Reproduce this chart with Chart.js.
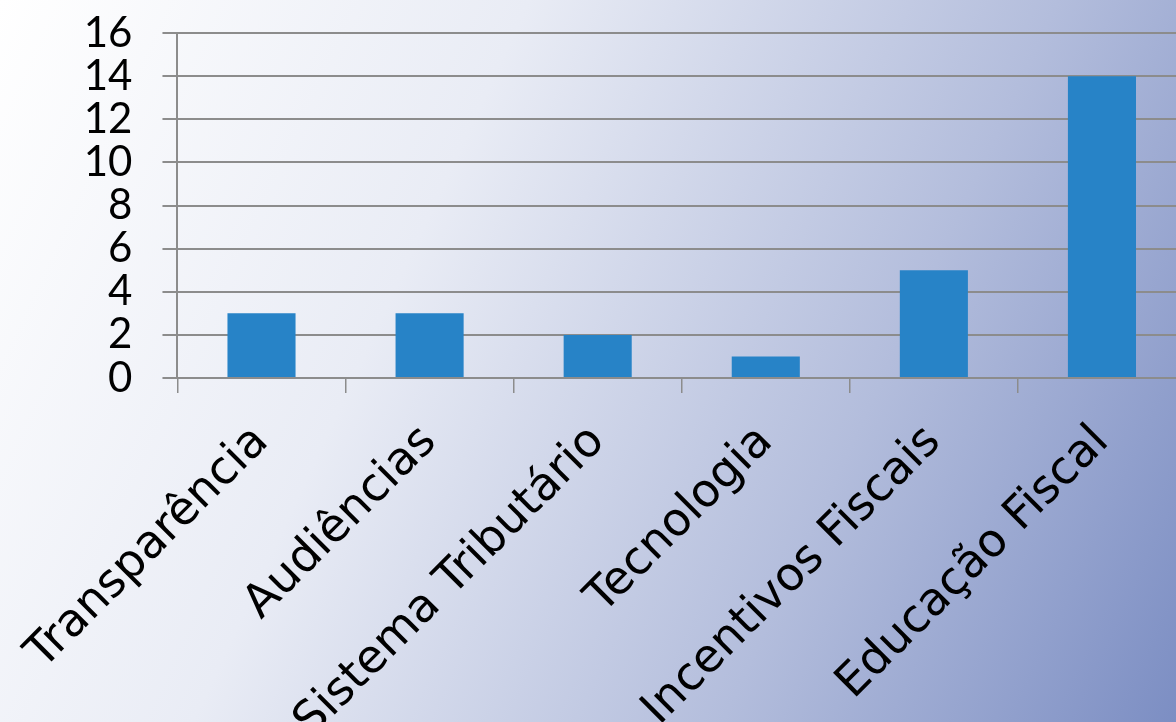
<!DOCTYPE html>
<html>
<head>
<meta charset="utf-8">
<script src="https://cdn.jsdelivr.net/npm/chart.js@4"></script>
<style>
  html, body {
    margin: 0;
    padding: 0;
    overflow: hidden;
    width: 1176px;
    height: 722px;
    background: linear-gradient(115deg, #ffffff 0%, #e9ecf5 35%, #b3bddc 70%, #7c8ec3 100%);
  }
  #wrap { position: absolute; left: -2px; top: -18px; width: 1190px; height: 740px; }
</style>
</head>
<body>
<div id="wrap"><canvas id="grafico" width="1190" height="740"></canvas></div>
<script>
const categorias = ["Transparência", "Audiências", "Sistema Tributário", "Tecnologia", "Incentivos Fiscais", "Educação Fiscal"];
const valores = [3, 3, 2, 1, 5, 14];
const ticksY = [0, 2, 4, 6, 8, 10, 12, 14, 16];

const cinza = "#8c8c8c";

const ctx = document.getElementById("grafico").getContext("2d");
new Chart(ctx, {
  type: "bar",
  data: {
    labels: categorias,
    datasets: [
      {
        label: "Total",
        data: valores,
        backgroundColor: "#2783c7",
        borderWidth: 0,
        barPercentage: 0.81,
        categoryPercentage: 0.5,
      },
    ],
  },
  options: {
    responsive: false,
    animation: false,
    layout: { padding: { top: 0, right: 2, left: 0, bottom: 0 } },
    plugins: {
      legend: { display: false },
      tooltip: { enabled: false },
    },
    scales: {
      x: {
        grid: {
          display: true,
          drawOnChartArea: false,
          drawTicks: true,
          tickLength: 15,
          color: cinza,
          lineWidth: 1.5,
        },
        border: { color: cinza, width: 2 },
        ticks: {
          color: "#000",
          font: { family: "'DejaVu Sans', sans-serif", size: 46 },
          minRotation: 45,
          maxRotation: 45,
          padding: 22,
          autoSkip: false,
        },
        afterFit: (scale) => { scale.height = 344; },
      },
      y: {
        min: 0,
        max: 16,
        afterBuildTicks: (scale) => { scale.ticks = ticksY.map((v) => ({ value: v })); },
        grid: {
          color: cinza,
          lineWidth: 2,
          tickLength: 15,
        },
        border: { color: cinza, width: 2 },
        ticks: {
          color: "#000",
          font: { family: "Lato, sans-serif", size: 42, lineHeight: 1 },
          padding: 30,
          autoSkip: false,
        },
        afterFit: (scale) => { scale.width = 178; },
      },
    },
  },
});
</script>
</body>
</html>
